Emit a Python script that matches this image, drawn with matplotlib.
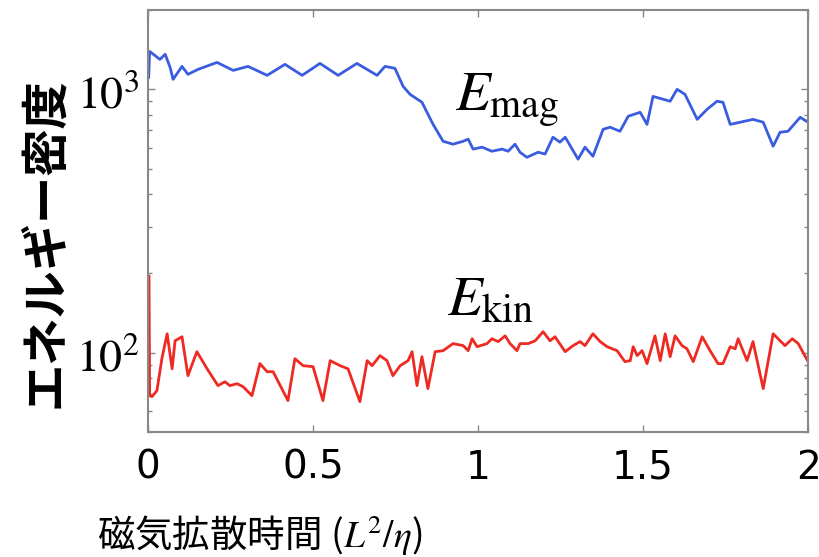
import numpy as np
import matplotlib
matplotlib.use('Agg')
import matplotlib.pyplot as plt
from matplotlib.ticker import FixedLocator, FixedFormatter, LogLocator, NullFormatter

plt.rcParams['mathtext.fontset'] = 'stix'
plt.rcParams['font.family'] = ['Noto Sans CJK JP', 'DejaVu Sans']

# magnetic energy (blue)
t_mag = [0.002, 0.005, 0.036, 0.052, 0.067, 0.076, 0.103, 0.121, 0.152, 0.209, 0.258,
         0.303, 0.361, 0.415, 0.467, 0.521, 0.576, 0.633, 0.694, 0.718, 0.748,
         0.773, 0.794, 0.830, 0.864, 0.894, 0.924, 0.955, 0.970, 0.985, 1.012,
         1.042, 1.073, 1.091, 1.112, 1.127, 1.148, 1.182, 1.203, 1.227, 1.248,
         1.264, 1.303, 1.324, 1.348, 1.379, 1.400, 1.430, 1.455, 1.491, 1.512,
         1.530, 1.582, 1.603, 1.627, 1.664, 1.694, 1.724, 1.742, 1.764, 1.794,
         1.833, 1.864, 1.894, 1.915, 1.939, 1.976, 2.0]
e_mag = [1110, 1393, 1299, 1358, 1211, 1091, 1222, 1140, 1191, 1265, 1180,
         1222, 1130, 1244, 1130, 1254, 1130, 1254, 1130, 1222, 1202,
         1026, 957, 893, 735, 635, 619, 635, 647, 593, 603,
         582, 593, 582, 619, 577, 552, 577, 568, 658, 630,
         658, 543, 603, 557, 705, 718, 693, 790, 818, 736,
         940, 901, 1000, 957, 769, 840, 901, 893, 736, 750,
         769, 750, 608, 687, 693, 783, 750]

# kinetic energy (red)
t_kin = [0.003, 0.005, 0.012, 0.027, 0.042, 0.058, 0.073, 0.082, 0.103, 0.121, 0.148,
         0.179, 0.212, 0.233, 0.248, 0.270, 0.288, 0.315, 0.339, 0.361, 0.379,
         0.424, 0.445, 0.470, 0.5, 0.530, 0.552, 0.582, 0.606, 0.642, 0.664,
         0.679, 0.703, 0.724, 0.742, 0.764, 0.788, 0.8, 0.815, 0.830, 0.848,
         0.870, 0.894, 0.924, 0.955, 0.970, 0.982, 0.997, 1.027, 1.042, 1.061,
         1.082, 1.097, 1.118, 1.127, 1.152, 1.173, 1.197, 1.218, 1.233, 1.264,
         1.288, 1.309, 1.324, 1.348, 1.370, 1.391, 1.421, 1.445, 1.461, 1.470,
         1.482, 1.497, 1.512, 1.536, 1.552, 1.567, 1.582, 1.597, 1.618, 1.633,
         1.652, 1.679, 1.703, 1.727, 1.742, 1.764, 1.779, 1.788, 1.815, 1.833,
         1.864, 1.894, 1.930, 1.952, 1.970, 2.0]
e_kin = [195, 68.7, 68.1, 71.8, 94.9, 118.0, 86.9, 111.0, 115.0, 81.8, 100.9,
         86.9, 75.0, 77.6, 75.0, 76.3, 74.3, 68.7, 90.9, 84.7, 84.7,
         65.8, 94.9, 89.3, 88.5, 65.8, 93.3, 89.3, 86.9, 65.2, 93.3,
         89.3, 97.5, 93.3, 81.8, 89.3, 93.3, 100.9, 75.0, 96.6, 73.1,
         100.9, 101.8, 108.3, 106.4, 101.8, 113.0, 105.4, 108.3, 113.0, 110.2,
         115.9, 108.3, 101.8, 108.3, 108.3, 111.0, 120.2, 111.0, 115.0, 100.9,
         106.4, 110.2, 106.4, 118.0, 110.2, 105.4, 101.8, 92.5, 93.3, 105.4,
         97.5, 101.8, 90.9, 115.9, 93.3, 118.0, 96.6, 115.9, 106.4, 103.5,
         92.5, 115.0, 101.8, 90.9, 90.9, 105.4, 103.5, 113.0, 93.3, 110.2,
         73.1, 118.0, 106.4, 113.0, 108.3, 92.5]

xticks = [0, 0.5, 1, 1.5, 2]
xticklabels = ['0', '0.5', '1', '1.5', '2']

fig = plt.figure(figsize=(8.2, 5.57), dpi=100)
ax = fig.add_axes([0.1805, 0.2244, 0.805, 0.7576])

ax.plot(t_mag, e_mag, color='#3a5de0', lw=2)
ax.plot(t_kin, e_kin, color='#ee2a22', lw=2)

ax.set_yscale('log')
ax.set_xlim(0, 2)
ax.set_ylim(50, 2000)

ax.xaxis.set_major_locator(FixedLocator(xticks))
ax.set_xticklabels(xticklabels, fontsize=28, family='DejaVu Sans')
ax.yaxis.set_major_locator(FixedLocator([100, 1000]))
ax.yaxis.set_major_formatter(FixedFormatter(['$10^2$', '$10^3$']))
ax.yaxis.set_minor_locator(LogLocator(base=10, subs=np.arange(2, 10)))
ax.yaxis.set_minor_formatter(NullFormatter())
for lab in ax.get_yticklabels():
    lab.set_fontsize(33)

ax.tick_params(which='both', direction='in', top=True, right=True, color='#888888')
ax.tick_params(which='major', length=5, width=1)
ax.tick_params(which='minor', length=3, width=1)
ax.tick_params(axis='x', pad=12)
ax.tick_params(axis='y', pad=6)
for s in ax.spines.values():
    s.set_color('#888888')
    s.set_linewidth(1.5)

ax.text(0.93, 825, r'$E_{\mathrm{mag}}$', fontsize=41, va='baseline', ha='left')
ax.text(0.906, 138, r'$E_{\mathrm{kin}}$', fontsize=41, va='baseline', ha='left')

fig.text(45 / 820, 1 - 243 / 557, 'エネルギー密度', rotation=90, fontsize=34,
         fontweight='bold', ha='center', va='center')
fig.text(260 / 820, 1 - 536 / 557, '磁気拡散時間 ($L^2/\\eta$)', fontsize=27,
         ha='center', va='center')

fig.savefig('out.png', dpi=100)
